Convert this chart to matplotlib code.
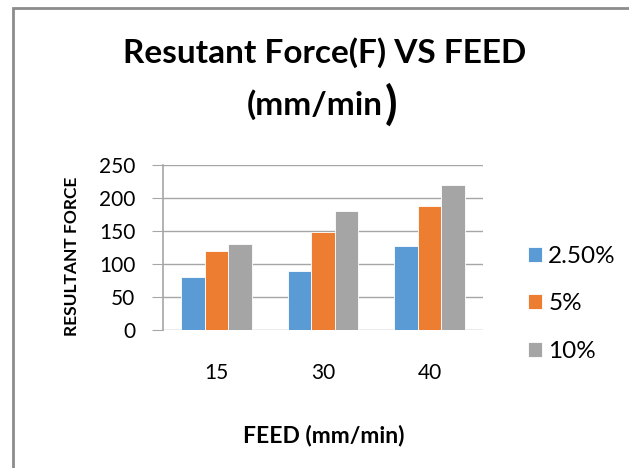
import matplotlib
matplotlib.use("Agg")
import matplotlib.pyplot as plt
import numpy as np
from matplotlib.patches import Rectangle

feeds = ["15", "30", "40"]
series = ["2.50%", "5%", "10%"]
force_25 = [80, 90, 128]
force_5 = [120, 148, 188]
force_10 = [130, 180, 220]
colors = ["#5B9BD5", "#ED7D31", "#A5A5A5"]

plt.rcParams["font.family"] = ["Lato", "DejaVu Sans"]

W, H = 629, 468
fig = plt.figure(figsize=(W / 100, H / 100), dpi=100)

# outer chart frame (only left and top edges fall inside the image)
fig.patches.append(Rectangle((13 / W, -0.1), 1.2, (H - 8) / H + 0.1,
                             transform=fig.transFigure, fill=False,
                             edgecolor="#8C8C8C", linewidth=2))

ax = fig.add_axes([163 / W, (H - 330) / H, (483 - 163) / W, (330 - 165) / H])

x = np.arange(len(feeds))
width = 0.22
for i, (vals, name) in enumerate(zip([force_25, force_5, force_10], series)):
    ax.bar(x + (i - 1) * width, vals, width, color=colors[i], label=name,
           edgecolor="white", linewidth=0.6, zorder=3)

ax.set_xlim(-0.5, 2.5)
ax.set_ylim(0, 250)
ax.set_yticks(range(0, 251, 50))
ax.set_xticks(x)
ax.set_xticklabels(feeds)
ax.yaxis.grid(True, color="#A6A6A6", linewidth=1, zorder=0)
for s in ["top", "right", "bottom"]:
    ax.spines[s].set_visible(False)
ax.spines["left"].set_color("#A6A6A6")
ax.spines["left"].set_linewidth(1.2)
ax.tick_params(axis="y", length=8, color="#A6A6A6", labelsize=15, pad=12)
ax.tick_params(axis="x", length=0, labelsize=15, pad=24)

ax.set_xlabel("FEED (mm/min)", fontsize=16.5, fontweight="bold")
ax.xaxis.set_label_coords(0.503, -0.576)
ax.set_ylabel("RESULTANT FORCE", fontsize=12.5, fontweight="bold", va="center")
ax.yaxis.set_label_coords(-0.285, 0.448)

fig.legend(*ax.get_legend_handles_labels(), loc="center left",
           bbox_to_anchor=(528 / W, 1 - 304 / H), bbox_transform=fig.transFigure,
           frameon=False, fontsize=17.5, handlelength=0.58, handleheight=0.58,
           handletextpad=0.25, labelspacing=1.1, borderpad=0, borderaxespad=0)

fig.text(325 / W, 1 - 63 / H, "Resutant Force(F) VS FEED", ha="center",
         va="baseline", fontsize=24, fontweight="bold")
t2 = fig.text(247 / W, 1 - 115 / H, "(mm/min", ha="left", va="baseline",
              fontsize=24, fontweight="bold")
fig.canvas.draw()
bb = t2.get_window_extent()
fig.text(bb.x1 / W + 0.003, 1 - 119 / H, ")", ha="left", va="baseline",
         fontsize=33, fontweight="bold")

fig.savefig("out.png", dpi=100)
